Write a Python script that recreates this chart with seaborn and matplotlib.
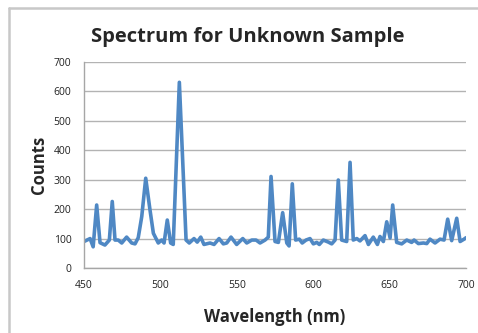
import numpy as np
import pandas as pd
import seaborn as sns
import matplotlib.pyplot as plt
from matplotlib.lines import Line2D

# Значення
wavelength = [450, 454, 456, 458.3, 460.5, 463.7, 466.6, 468.5, 470.3, 472.4,
              474.7, 477.9, 481.2, 483.4, 485.5, 487.8, 490.4, 493.2, 495.4, 498.6,
              500.8, 502.4, 504.5, 506.7, 508.4, 512.4, 516.8, 518.9, 522, 524.1,
              526.4, 528.5, 532.5, 535.1, 538.4, 541.2, 543.4, 546.2, 549.9, 553.9,
              556.5, 559.8, 562.6, 565.2, 568.5, 570.6, 572.4, 575, 577.2, 580,
              582.7, 584.2, 586.3, 588.5, 590.9, 592.8, 595.3, 597.9, 600.1, 602.3,
              604, 606.6, 609.9, 612.1, 614.3, 616.4, 618.6, 621.9, 624.1, 626.2,
              628.5, 630.6, 633.9, 636.1, 639.3, 642, 643.7, 645.9, 648.1, 650.3,
              652, 654.6, 657.9, 661.2, 664.4, 666, 668.8, 672.1, 674.3, 676.4,
              679.7, 683, 685.6, 688, 690.6, 693.9, 696.1, 698.7, 700]
counts = [90, 100, 72, 214, 86, 78, 95, 226, 95, 95,
          85, 105, 85, 82, 103, 175, 305, 197, 118, 85,
          95, 85, 163, 85, 80, 631, 95, 85, 100, 88,
          105, 80, 85, 80, 100, 82, 85, 105, 80, 100,
          85, 95, 95, 85, 95, 105, 311, 90, 87, 188,
          85, 75, 286, 95, 98, 85, 95, 100, 82, 87,
          80, 95, 88, 82, 95, 299, 95, 90, 359, 95,
          100, 92, 110, 80, 105, 80, 107, 90, 157, 102,
          214, 87, 82, 95, 87, 95, 83, 85, 83, 98,
          85, 98, 95, 166, 93, 169, 90, 98, 103]

x_ticks = [450, 500, 550, 600, 650, 700]
y_ticks = [0, 100, 200, 300, 400, 500, 600, 700]

df = pd.DataFrame({"wavelength": wavelength, "counts": counts})

sns.set_style("white")
plt.rcParams['font.family'] = ['Open Sans', 'DejaVu Sans']

fig = plt.figure(figsize=(4.78, 3.33), dpi=100)
ax = fig.add_axes([0.1757, 0.1952, 0.7993, 0.6186])

sns.lineplot(data=df, x="wavelength", y="counts", ax=ax, color="#4F88C4",
             linewidth=2.6, solid_joinstyle="round", sort=False)

ax.set_xlim(450, 700)
ax.set_ylim(0, 700)
ax.set_xticks(x_ticks)
ax.set_yticks(y_ticks)
ax.yaxis.grid(True, color="#B3B3B3", linewidth=1.0)
ax.set_axisbelow(True)
for side in ["top", "right"]:
    ax.spines[side].set_visible(False)
for side in ["left", "bottom"]:
    ax.spines[side].set_color("#A6A6A6")
    ax.spines[side].set_linewidth(1.0)
ax.tick_params(axis="both", direction="out", length=4, width=1, color="#A6A6A6",
               labelsize=7.5, labelcolor="#222222", pad=5)

ax.set_xlabel("Wavelength (nm)", fontsize=12, fontweight="bold", labelpad=12)
ax.set_ylabel("Counts", fontsize=12, fontweight="bold", labelpad=4)
fig.text(0.519, 0.89, "Spectrum for Unknown Sample", ha="center", va="center",
         fontsize=14.5, fontweight="bold")

# рамка області діаграми
fig.add_artist(Line2D([0.0188, 0.0188], [0, 0.9745], color="#C8C8C8", linewidth=1.8))
fig.add_artist(Line2D([0.0188, 1.0], [0.9745, 0.9745], color="#C8C8C8", linewidth=1.8))

fig.savefig("out.png", dpi=100)
